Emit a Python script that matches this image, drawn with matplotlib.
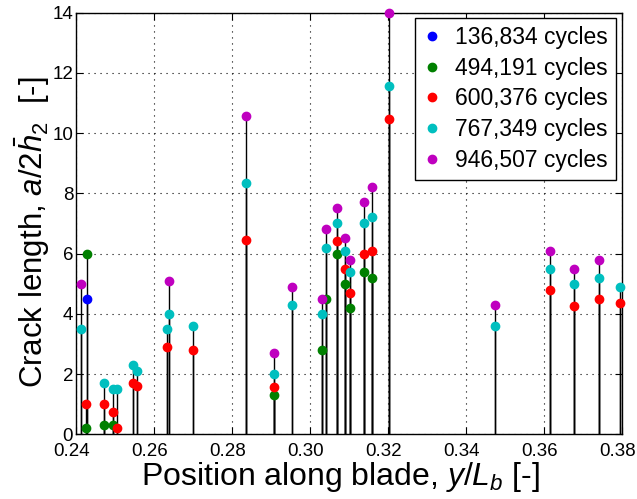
import numpy as np
import matplotlib.pyplot as plt
from matplotlib.transforms import ScaledTranslation

plt.rcParams['font.family'] = ['Liberation Sans', 'DejaVu Sans']
plt.rcParams['mathtext.fontset'] = 'custom'
plt.rcParams['mathtext.rm'] = 'Liberation Sans'
plt.rcParams['mathtext.it'] = 'Liberation Sans:italic'

nan = np.nan

# posiciones de las grietas (y/Lb)
pos = [0.2412, 0.2425, 0.2429, 0.2473, 0.2495, 0.2505, 0.2546, 0.2557, 0.2633,
       0.2639, 0.2701, 0.2837, 0.2909, 0.2955, 0.3031, 0.3042, 0.3069, 0.3090,
       0.3103, 0.3139, 0.3160, 0.3203, 0.3475, 0.3615, 0.3678, 0.3741, 0.3795]

c136 = [nan, nan, 4.5, nan, nan, nan, nan, nan, nan, nan, nan, nan, nan, nan,
        nan, nan, nan, nan, nan, nan, nan, nan, nan, nan, nan, nan, nan]
c494 = [nan, 0.2, 6.0, 0.3, 0.3, nan, nan, nan, nan, nan, nan, nan, 1.3, nan,
        2.8, 4.5, 6.0, 5.0, 4.2, 5.4, 5.2, nan, nan, nan, nan, nan, nan]
c600 = [nan, 1.0, nan, 1.0, 0.75, 0.2, 1.7, 1.6, 2.9, nan, 2.8, 6.45, 1.57, nan,
        nan, nan, 6.4, 5.5, 4.7, 6.0, 6.1, 10.45, nan, 4.8, 4.25, 4.5, 4.36]
c767 = [3.5, nan, nan, 1.7, 1.5, 1.5, 2.3, 2.1, 3.5, 4.0, 3.6, 8.35, 2.0, 4.3,
        4.0, 6.2, 7.0, 6.1, 5.4, 7.0, 7.2, 11.55, 3.6, 5.5, 5.0, 5.2, 4.9]
c946 = [5.0, nan, nan, nan, nan, nan, nan, nan, nan, 5.1, nan, 10.55, 2.7, 4.9,
        4.5, 6.8, 7.5, 6.5, 5.8, 7.7, 8.2, 14.0, 4.3, 6.1, 5.5, 5.8, nan]

series = [c136, c494, c600, c767, c946]
labels = ['136,834 cycles', '494,191 cycles', '600,376 cycles',
          '767,349 cycles', '946,507 cycles']
colors = ['#0000ff', '#008000', '#ff0000', '#00bfbf', '#bf00bf']

xticks = [0.24, 0.26, 0.28, 0.30, 0.32, 0.34, 0.36, 0.38]
yticks = [0, 2, 4, 6, 8, 10, 12, 14]

fig = plt.figure(figsize=(6.37, 4.99), dpi=100)
ax = fig.add_axes([0.1193, 0.1297, 0.857, 0.8452])

x = np.array(pos)
#Tallos y puntos de cada serie
for vals in series:
    y = np.array(vals)
    m = ~np.isnan(y)
    ax.vlines(x[m], 0, y[m], colors='k', lw=1.0, zorder=2)
for vals, lab, col in zip(series, labels, colors):
    y = np.array(vals)
    m = ~np.isnan(y)
    ax.plot(x[m], y[m], 'o', color=col, ms=6, mec=col, label=lab, zorder=3,
            clip_on=False)

ax.set_xlim(0.24, 0.38)
ax.set_ylim(0, 14)
ax.set_xticks(xticks)
ax.set_xticklabels(['%.2f' % v for v in xticks])
ax.set_yticks(yticks)
ax.tick_params(direction='in', top=True, right=True, length=5, labelsize=13.5)
ax.tick_params(axis='x', pad=6.5)
ax.tick_params(axis='y', pad=2)
# etiquetas x un poco a la izquierda, como en el original
shift = ScaledTranslation(-0.04, 0, fig.dpi_scale_trans)
for lbl in ax.get_xticklabels():
    lbl.set_transform(lbl.get_transform() + shift)

ax.grid(True, color='k', linestyle=(0, (1, 4.4)), lw=0.8)
for s in ax.spines.values():
    s.set_linewidth(1.0)

ax.set_xlabel(r'Position along blade, $y/L_b$ [-]', fontsize=23, labelpad=0)
ax.xaxis.label.set_x(0.484)
ax.set_ylabel(r'Crack length, $a/2\bar{h}_2$  [-]', fontsize=22.5)
ax.yaxis.set_label_coords(-0.044, 0.48)

leg = ax.legend(loc='upper right', fontsize=16.5, numpoints=1, fancybox=False,
                edgecolor='k', framealpha=1, borderaxespad=0.25,
                handletextpad=0.6, labelspacing=0.33, handlelength=0.8,
                borderpad=0.35)
leg.get_frame().set_linewidth(1.0)

fig.savefig('out.png', dpi=100)
